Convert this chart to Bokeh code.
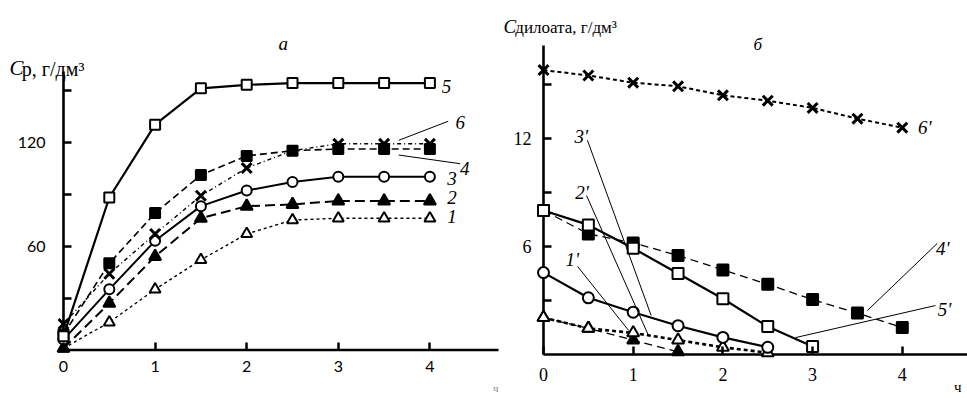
from bokeh.plotting import figure
from bokeh.layouts import row
from bokeh.models import Label, FixedTicker, Range1d
from bokeh.embed import file_html
from bokeh.resources import INLINE

# ---------------- data ----------------
hours = [0, 0.5, 1, 1.5, 2, 2.5, 3, 3.5, 4]
x_ticks = [0, 1, 2, 3, 4]

# panel a: C_p, g/dm3
a1 = [1, 16, 35, 52, 67, 75, 76, 76, 76]
a2 = [1, 27, 54, 76, 83, 84, 86, 86, 86]
a3 = [6, 35, 63, 83, 92, 97, 100, 100, 100]
a4 = [9, 50, 79, 101, 112, 115, 116, 116, 116]
a5 = [8, 88, 130, 151, 153, 154, 154, 154, 154]
a6 = [15, 44, 67, 89, 105, 115, 119, 119, 119]
a_yticks = [30, 60, 90, 120, 150]
a_ylabels = {30: "", 60: "60", 90: "", 120: "120", 150: ""}

# panel b
b6 = [15.8, 15.5, 15.1, 14.9, 14.4, 14.1, 13.7, 13.1, 12.6]
b5 = [8.0, 7.2, 5.9, 4.5, 3.1, 1.55, 0.45]
b4 = [8.0, 6.7, 6.2, 5.5, 4.7, 3.9, 3.05, 2.3, 1.5]
b3 = [4.55, 3.15, 2.35, 1.6, 0.95, 0.4]
b2 = [2.05, 1.45, 0.8, 0.15]
b1 = [2.05, 1.45, 1.2, 0.8, 0.4, 0.1]
b_yticks = [3, 6, 9, 12, 15]
b_ylabels = {3: "", 6: "6", 9: "", 12: "12", 15: ""}

# curve labels (text, x, y) and leader lines
a_labels = [("5", 4.18, 152), ("6", 4.33, 131), ("4", 4.38, 105), ("3", 4.24, 99),
            ("2", 4.24, 88), ("1", 4.24, 77)]
a_leaders_x0 = [3.66, 3.66]
a_leaders_y0 = [121, 112.5]
a_leaders_x1 = [4.20, 4.33]
a_leaders_y1 = [132, 107.5]

b_labels = [("6'", 4.25, 12.6), ("4'", 4.45, 5.9), ("5'", 4.47, 2.5), ("3'", 0.42, 12.1),
            ("2'", 0.43, 9.0), ("1'", 0.32, 5.3)]
b_leaders_x0 = [3.61, 2.81, 0.49, 0.48, 0.38]
b_leaders_y0 = [2.44, 0.94, 11.9, 8.83, 4.89]
b_leaders_x1 = [4.39, 4.37, 1.20, 1.17, 0.95]
b_leaders_y1 = [6.17, 2.72, 2.17, 1.06, 1.33]

SERIF = "Liberation Serif"
SANS = "Lato"


def base_fig(width, height, xr, yr, x_axis_end, y_axis_end):
    p = figure(width=width, height=height, x_range=Range1d(*xr), y_range=Range1d(*yr),
               output_backend="svg", toolbar_location=None,
               min_border_left=0, min_border_right=0, min_border_top=0, min_border_bottom=0)
    p.outline_line_color = None
    p.xgrid.visible = False
    p.ygrid.visible = False
    p.background_fill_color = "white"
    p.border_fill_color = "white"
    for ax in (p.xaxis[0], p.yaxis[0]):
        ax.fixed_location = 0
        ax.axis_line_color = None
        ax.major_tick_in = 8
        ax.major_tick_out = 0
        ax.major_tick_line_width = 2.5
        ax.major_tick_line_color = "black"
        ax.minor_tick_line_color = None
        ax.major_label_text_color = "black"
    # axis lines
    p.segment(x0=[0, 0], y0=[0, 0], x1=[0, x_axis_end], y1=[y_axis_end, 0],
              line_color="black", line_width=2.6)
    return p


def series(p, x, y, marker, size, filled, dash, lw, mlw=2):
    xs = x[:len(y)]
    p.line(xs, y, line_color="black", line_width=lw, line_dash=dash)
    fill = "black" if filled else "white"
    p.scatter(xs, y, marker=marker, size=size, fill_color=fill, line_color="black", line_width=mlw)


def lbl(p, x, y, text, size, italic=False, align="center", baseline="middle", font=SERIF, color="black"):
    p.add_layout(Label(x=x, y=y, text=text, text_font=font,
                       text_font_style="italic" if italic else "normal",
                       text_font_size=size, text_align=align, text_baseline=baseline,
                       text_color=color))


# ---------------- panel a ----------------
# page mapping: x=0 at px 63, 91.6 px per hour; y=0 at px 349.5, 1.733 px per unit
pa = base_fig(500, 398, (-63 / 91.6, 437 / 91.6), (-48.5 / 1.733, 349.5 / 1.733),
              435 / 91.6, 278.5 / 1.733)
pa.xaxis.ticker = FixedTicker(ticks=x_ticks)
pa.yaxis.ticker = FixedTicker(ticks=a_yticks)
pa.yaxis.major_label_overrides = a_ylabels
pa.xaxis.major_label_standoff = 11
pa.yaxis.major_label_standoff = 18
for ax in (pa.xaxis[0], pa.yaxis[0]):
    ax.major_label_text_font = SANS
    ax.major_label_text_font_size = "16px"

series(pa, hours, a1, "triangle", 11, False, "3 3", 1.4)
series(pa, hours, a2, "triangle", 12, True, "10 5", 2)
series(pa, hours, a3, "circle", 10, False, "solid", 2)
series(pa, hours, a4, "square", 10, True, "7 4", 1.6)
series(pa, hours, a6, "x", 14, False, "4 3 1 3", 1.4, mlw=3)
series(pa, hours, a5, "square", 10, False, "solid", 2.2)
pa.segment(x0=a_leaders_x0, y0=a_leaders_y0, x1=a_leaders_x1, y1=a_leaders_y1,
           line_color="black", line_width=1)
for t, x, y in a_labels:
    lbl(pa, x, y, t, "19px", italic=True)
lbl(pa, 2.40, 177, "а", "19px", italic=True)
lbl(pa, -0.59, 163, "C", "21px", italic=True, align="left", baseline="alphabetic")
lbl(pa, -0.455, 162, "р, г/дм³", "20px", align="left", baseline="alphabetic")
lbl(pa, 4.72, -22, "ч", "11px", color="#888888")

# ---------------- panel b ----------------
# page mapping: x=0 at px 543 (43 px into this figure), 89.7 px per hour; y=0 at px 354, 18 px per unit
pb = base_fig(467, 398, (-43 / 89.7, 424 / 89.7), (-44 / 18, 354 / 18),
              424 / 89.7, 309 / 18)
pb.xaxis.ticker = FixedTicker(ticks=x_ticks)
pb.yaxis.ticker = FixedTicker(ticks=b_yticks)
pb.yaxis.major_label_overrides = b_ylabels
pb.xaxis.major_label_standoff = 13
pb.yaxis.major_label_standoff = 12
for ax in (pb.xaxis[0], pb.yaxis[0]):
    ax.major_label_text_font = SERIF
    ax.major_label_text_font_size = "18px"

series(pb, hours, b6, "x", 14, False, "4 3", 2, mlw=3)
series(pb, hours, b4, "square", 11, True, "8 5", 1.3)
series(pb, hours, b2, "triangle", 12, True, "8 5", 1.3)
series(pb, hours, b1, "triangle", 12, False, "4 3", 2.6)
series(pb, hours, b3, "circle", 11, False, "solid", 2.2)
series(pb, hours, b5, "square", 11, False, "solid", 2.2)
pb.segment(x0=b_leaders_x0, y0=b_leaders_y0, x1=b_leaders_x1, y1=b_leaders_y1,
           line_color="black", line_width=1)
for t, x, y in b_labels:
    lbl(pb, x, y, t, "19px", italic=True)
lbl(pb, 2.39, 17.2, "б", "17px", italic=True)
lbl(pb, -0.446, 18.2, "C", "19px", italic=True, align="left", baseline="alphabetic")
lbl(pb, -0.315, 18.15, "дилоата, г/дм³", "17px", align="left", baseline="alphabetic")
lbl(pb, 4.66, -1.8, "ч", "15px", align="right")

layout = row(pa, pb)
open("out.html", "w").write(file_html(layout, INLINE))
